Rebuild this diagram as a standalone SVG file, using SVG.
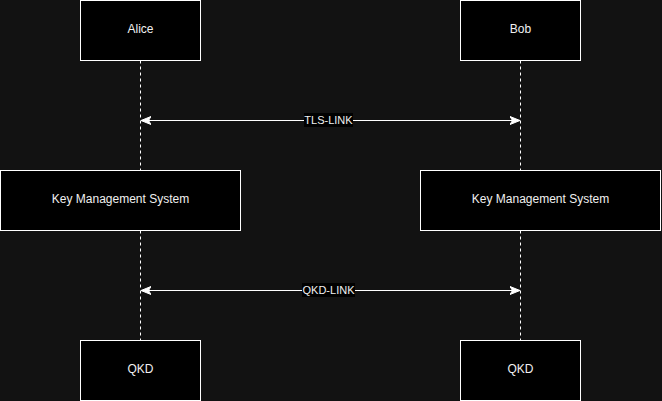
<svg xmlns="http://www.w3.org/2000/svg" width="662" height="401" viewBox="0 0 662 401">
<style>
.box{fill:#000;stroke:#fff;stroke-width:1}
.t{font-family:"Liberation Sans",Arial,sans-serif;font-size:12px;fill:#f0f0f0;text-anchor:middle;dominant-baseline:central}
.ll{stroke:#fff;stroke-width:1;stroke-dasharray:3 3;fill:none}
.msg{stroke:#fff;stroke-width:1;fill:none;marker-start:url(#a);marker-end:url(#a)}
.lb{font-family:"Liberation Sans",Arial,sans-serif;font-size:11px;fill:#f0f0f0;text-anchor:middle;dominant-baseline:central}
</style>
<defs>
<marker id="a" viewBox="0 0 10 10" refX="10" refY="5" markerWidth="10" markerHeight="10" markerUnits="userSpaceOnUse" orient="auto-start-reverse">
<path d="M0,1 L10,5 L0,9 L2.5,5 Z" fill="#fff" stroke="#fff" stroke-width="1"/>
</marker>
</defs>
<rect width="662" height="401" fill="#121212"/>
<g id="connectors">
<path class="ll" d="M140.5,60.5 V170.5 M140.5,230.5 V340.5"/>
<path class="ll" d="M520.5,60.5 V170.5 M520.5,230.5 V340.5"/>
<path class="msg" d="M141,120.5 H520"/>
<rect x="304" y="113" width="49" height="14" fill="#000"/>
<text class="lb" x="328.5" y="119.5">TLS-LINK</text>
<path class="msg" d="M141,290.5 H520"/>
<rect x="302" y="283" width="53" height="14" fill="#000"/>
<text class="lb" x="328.5" y="289.5">QKD-LINK</text>
</g>
<g id="alice"><rect class="box" x="80.5" y="0.5" width="120" height="60"/><text class="t" x="140.5" y="29">Alice</text></g>
<g id="bob"><rect class="box" x="460.5" y="0.5" width="120" height="60"/><text class="t" x="520.5" y="29">Bob</text></g>
<g id="kms-left"><rect class="box" x="0.5" y="170.5" width="240" height="60"/><text class="t" x="120.5" y="199">Key Management System</text></g>
<g id="kms-right"><rect class="box" x="420.5" y="170.5" width="240" height="60"/><text class="t" x="540.5" y="199">Key Management System</text></g>
<g id="qkd-left"><rect class="box" x="80.5" y="340.5" width="120" height="60"/><text class="t" x="140.5" y="369">QKD</text></g>
<g id="qkd-right"><rect class="box" x="460.5" y="340.5" width="120" height="60"/><text class="t" x="520.5" y="369">QKD</text></g>
</svg>
